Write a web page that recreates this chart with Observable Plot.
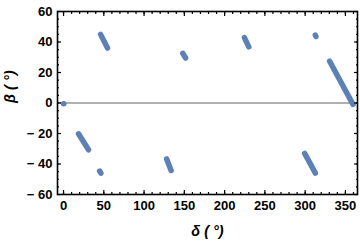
<!DOCTYPE html>
<html>
<head>
<meta charset="utf-8">
<script src="https://cdn.jsdelivr.net/npm/d3@7"></script>
<script src="https://cdn.jsdelivr.net/npm/@observablehq/plot@0.6"></script>
<style>
  html, body { margin: 0; padding: 0; background: #fff; }
  svg { font-family: "Liberation Sans", Arial, sans-serif; }
</style>
</head>
<body>
<div id="chart"></div>
<script>
// Each track: start and end (δ, β) in degrees
const deltaStart = [0,    46,   18.6,  44.8, 148,  128,  224.6, 312.6, 330.4, 299.4];
const betaStart  = [-0.5, 45,  -20.2, -44.6, 32.6, -36.7, 42.9, 44.6,  27.4, -33];
const deltaEnd   = [0.3,  54.6, 31,   46.4, 151.6, 133.6, 230,   313.4, 359.4, 312.7];
const betaEnd    = [-0.5, 36,  -30.7, -46,  29.5, -44.2, 36.8,  43.6,  -0.9, -46];

const xMajor = [0, 50, 100, 150, 200, 250, 300, 350];
const yMajor = [-60, -40, -20, 0, 20, 40, 60];
const xMinor = d3.range(0, 361, 10);
const yMinor = d3.range(-60, 61, 5);

const tracks = deltaStart.map((d, i) => ({
  x1: d, y1: betaStart[i], x2: deltaEnd[i], y2: betaEnd[i]
}));

const fmt = d => d < 0 ? "\u2212 " + (-d) : String(d);
const lab = {fontSize: 13, fontWeight: "bold", fill: "#000"};

const chart = Plot.plot({
  width: 360,
  height: 244,
  marginLeft: 57,
  marginRight: 3,
  marginTop: 11,
  marginBottom: 50,
  style: {fontFamily: "'Liberation Sans', Arial, sans-serif", background: "#fff"},
  x: {domain: [-7.5, 365]},
  y: {domain: [-60, 60]},
  marks: [
    Plot.ruleY([0], {stroke: "#606060", strokeWidth: 1}),
    Plot.link(tracks, {x1: "x1", y1: "y1", x2: "x2", y2: "y2",
      stroke: "#5e81b5", strokeWidth: 5.5, strokeLinecap: "round"}),
    // major ticks + labels
    Plot.axisX(xMajor, {anchor: "bottom", tickSize: -4, tickPadding: 10, tickFormat: fmt, label: null, stroke: "#000", strokeWidth: 1.2, ...lab}),
    Plot.axisX(xMinor, {anchor: "bottom", tickSize: -2, text: null, label: null, stroke: "#000", strokeWidth: 1.2}),
    Plot.axisX(xMajor, {anchor: "top", tickSize: -4, text: null, label: null, stroke: "#000", strokeWidth: 1.2}),
    Plot.axisX(xMinor, {anchor: "top", tickSize: -2, text: null, label: null, stroke: "#000", strokeWidth: 1.2}),
    Plot.axisY(yMajor, {anchor: "left", tickSize: -4, tickPadding: 9, tickFormat: fmt, label: null, stroke: "#000", strokeWidth: 1.2, ...lab}),
    Plot.axisY(yMinor, {anchor: "left", tickSize: -2, text: null, label: null, stroke: "#000", strokeWidth: 1.2}),
    Plot.axisY(yMajor, {anchor: "right", tickSize: -4, text: null, label: null, stroke: "#000", strokeWidth: 1.2}),
    Plot.axisY(yMinor, {anchor: "right", tickSize: -2, text: null, label: null, stroke: "#000", strokeWidth: 1.2}),
    Plot.frame({stroke: "#000", strokeWidth: 1.6}),
    Plot.text(["δ ( °)"], {frameAnchor: "bottom", dy: 41, fontSize: 14.5, fontWeight: "bold", fontStyle: "italic", fill: "#000", text: d => d}),
    Plot.text(["β ( °)"], {frameAnchor: "left", dx: -47, rotate: -90, fontSize: 14.5, fontWeight: "bold", fontStyle: "italic", fill: "#000", text: d => d})
  ]
});
document.getElementById("chart").appendChild(chart);
</script>
</body>
</html>
